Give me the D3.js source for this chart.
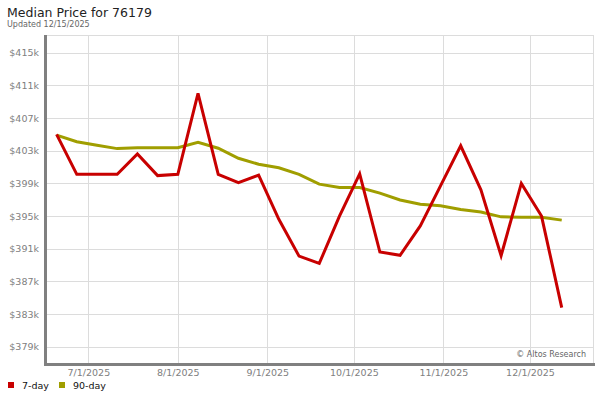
<!DOCTYPE html>
<html>
<head>
<meta charset="utf-8">
<script src="https://cdn.jsdelivr.net/npm/d3@7"></script>
<style>
  html, body { margin: 0; padding: 0; background: #fff; }
  svg { display: block; font-family: "DejaVu Sans", sans-serif; }
</style>
</head>
<body>
<svg id="chart" width="600" height="400"></svg>
<script>
// ---- data ----
const dates = ["2025-06-20","2025-06-27","2025-07-04","2025-07-11","2025-07-18","2025-07-25",
  "2025-08-01","2025-08-08","2025-08-15","2025-08-22","2025-08-29","2025-09-05","2025-09-12",
  "2025-09-19","2025-09-26","2025-10-03","2025-10-10","2025-10-17","2025-10-24","2025-10-31",
  "2025-11-07","2025-11-14","2025-11-21","2025-11-28","2025-12-05","2025-12-12"];
const sevenDay = [405.0, 400.1, 400.1, 400.1, 402.6, 399.95, 400.1, 410.0, 400.1, 399.1, 400.0,
  394.6, 390.1, 389.2, 395.0, 400.15, 390.6, 390.2, 393.8, 398.7, 403.6, 398.2, 390.15, 399.0,
  395.0, 383.8];
const ninetyDay = [404.9, 404.1, 403.65, 403.25, 403.37, 403.37, 403.37, 404.03, 403.3, 402.07,
  401.33, 400.9, 400.1, 398.9, 398.5, 398.5, 397.8, 396.96, 396.44, 396.27, 395.8, 395.5, 394.9,
  394.85, 394.85, 394.5];
const yTicks = [379, 383, 387, 391, 395, 399, 403, 407, 411, 415];
const xTicks = ["2025-07-01","2025-08-01","2025-09-01","2025-10-01","2025-11-01","2025-12-01"];
const seriesNames = ["7-day", "90-day"];
const seriesColors = ["#c80000", "#a09e00"];

// ---- layout ----
const svg = d3.select("#chart");
const L = 46, R = 593, T = 35, B = 364;
const parse = d3.timeParse("%Y-%m-%d");
const x = d3.scaleTime()
  .domain([new Date(2025, 5, 16, 8), new Date(2025, 11, 22, 20)])
  .range([L, R]);
const y = d3.scaleLinear().domain([376.9, 417.15]).range([B, T]);

const grid = svg.append("g").attr("shape-rendering", "crispEdges");
// horizontal gridlines
grid.append("g")
  .attr("transform", `translate(${L},0)`)
  .call(d3.axisLeft(y).tickValues(yTicks).tickSize(-(R - L)).tickFormat(""))
  .call(g => g.select(".domain").remove())
  .call(g => g.selectAll("line").attr("stroke", "#dcdcdc"));
// vertical gridlines
grid.append("g")
  .attr("transform", `translate(0,${B})`)
  .call(d3.axisBottom(x).tickValues(xTicks.map(parse)).tickSize(-(B - T)).tickFormat(""))
  .call(g => g.select(".domain").remove())
  .call(g => g.selectAll("line").attr("stroke", "#dcdcdc"));
// top and right border
grid.append("line").attr("x1", L).attr("x2", R + 0.5).attr("y1", T + 0.5).attr("y2", T + 0.5).attr("stroke", "#dcdcdc");
grid.append("line").attr("x1", R + 0.5).attr("x2", R + 0.5).attr("y1", T).attr("y2", B).attr("stroke", "#dcdcdc");

// y labels
const yAxis = svg.append("g")
  .attr("transform", `translate(${L - 7},0)`)
  .call(d3.axisLeft(y).tickValues(yTicks).tickSize(0).tickPadding(0).tickFormat(d => "$" + d + "k"));
yAxis.select(".domain").remove();
yAxis.selectAll("text").attr("fill", "#808080").attr("font-size", "9.5px")
  .attr("font-family", "DejaVu Sans, sans-serif");

// x labels
const xAxis = svg.append("g")
  .attr("transform", `translate(0,${B + 3})`)
  .call(d3.axisBottom(x).tickValues(xTicks.map(parse)).tickSize(0).tickPadding(2)
    .tickFormat(d3.timeFormat("%-m/%-d/%Y")));
xAxis.select(".domain").remove();
xAxis.selectAll("text").attr("fill", "#808080").attr("font-size", "9.5px")
  .attr("font-family", "DejaVu Sans, sans-serif");

// axis frame (thick grey)
svg.append("rect").attr("x", L - 2).attr("y", T).attr("width", 3).attr("height", B - T + 2).attr("fill", "#808080");
svg.append("rect").attr("x", L - 2).attr("y", B - 1).attr("width", R - L + 4).attr("height", 3).attr("fill", "#808080");

// lines
const pts = dates.map(parse);
const line = d3.line().x((d, i) => x(pts[i])).y(d => y(d));
[ninetyDay, sevenDay].forEach((vals, k) => {
  const c = k === 0 ? seriesColors[1] : seriesColors[0];
  svg.append("path").datum(vals)
    .attr("d", line)
    .attr("fill", "none")
    .attr("stroke", c)
    .attr("stroke-width", 3)
    .attr("stroke-linejoin", "miter");
});

// title
svg.append("text").attr("x", 7).attr("y", 17).attr("font-size", "12.5px").attr("fill", "#222")
  .text("Median Price for 76179");
svg.append("text").attr("x", 7).attr("y", 26.5).attr("font-size", "8px").attr("fill", "#666")
  .text("Updated 12/15/2025");

// copyright
svg.append("text").attr("x", 586).attr("y", 357).attr("text-anchor", "end")
  .attr("font-size", "8px").attr("fill", "#666").text("© Altos Research");

// legend
const legX = [8, 59];
seriesNames.forEach((n, i) => {
  svg.append("rect").attr("x", legX[i]).attr("y", 382).attr("width", 6).attr("height", 6)
    .attr("fill", seriesColors[i]);
  svg.append("text").attr("x", legX[i] + 14).attr("y", 389).attr("font-size", "9.5px")
    .attr("fill", "#111").text(n);
});
</script>
</body>
</html>
